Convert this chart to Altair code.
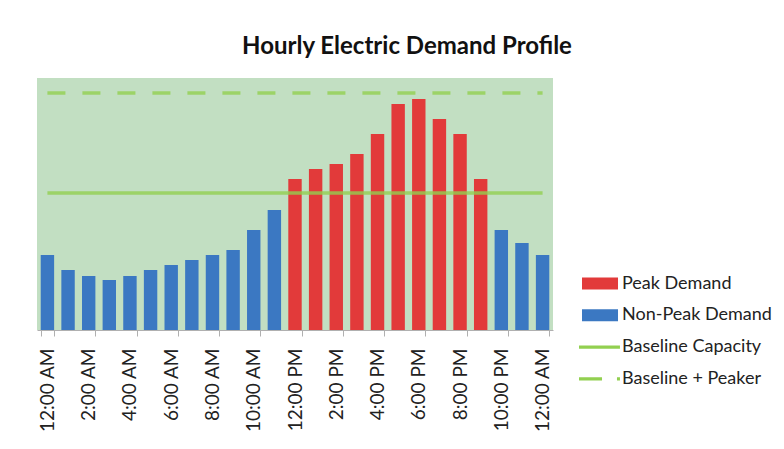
import altair as alt
import pandas as pd

hour_labels = ["12:00 AM", "1:00 AM", "2:00 AM", "3:00 AM", "4:00 AM", "5:00 AM",
               "6:00 AM", "7:00 AM", "8:00 AM", "9:00 AM", "10:00 AM", "11:00 AM",
               "12:00 PM", "1:00 PM", "2:00 PM", "3:00 PM", "4:00 PM", "5:00 PM",
               "6:00 PM", "7:00 PM", "8:00 PM", "9:00 PM", "10:00 PM", "11:00 PM",
               "12:00 AM"]
demand = [75, 60, 54, 50, 54, 60, 65, 70, 75, 80, 100, 120,
          151, 161, 166, 176, 196, 226, 231, 211, 196, 151,
          100, 87, 75]
demand_type = (["Non-Peak Demand"] * 12 + ["Peak Demand"] * 10 + ["Non-Peak Demand"] * 3)
baseline_capacity = 137
baseline_peaker = 237
y_max = 252

series_names = ["Peak Demand", "Non-Peak Demand", "Baseline Capacity", "Baseline + Peaker"]
series_colors = ["#e23a3a", "#3b78c2", "#92d050", "#92d050"]

hours = list(range(len(hour_labels)))
bars = pd.DataFrame({"hour": hours, "demand": demand, "type": demand_type})
lines = pd.DataFrame({
    "hour": hours + hours,
    "value": [baseline_capacity] * len(hours) + [baseline_peaker] * len(hours),
    "type": ["Baseline Capacity"] * len(hours) + ["Baseline + Peaker"] * len(hours),
})

label_expr = "[" + ",".join("'%s'" % s for s in hour_labels) + "][datum.value]"

x_enc = alt.X("hour:O",
              scale=alt.Scale(paddingInner=0.35, paddingOuter=0.18),
              axis=alt.Axis(title=None, values=hours[::2], labelExpr=label_expr,
                            labelAngle=-90, labelFontSize=19, labelColor="#222",
                            labelFont="Lato", labelPadding=12, tickBand="extent",
                            tickSize=6, tickColor="#b0b0b0", domainColor="#b0b0b0"))
y_scale = alt.Scale(domain=[0, y_max], nice=False, zero=True)

shape_sig = ("datum.value === 'Peak Demand' || datum.value === 'Non-Peak Demand' ? "
             "'M-1,-0.46H1.77V0.46H-1Z' : datum.value === 'Baseline Capacity' ? "
             "'M-1.23,-0.13H1.92V0.13H-1.23Z' : "
             "'M-1.23,-0.13H0.54V0.13H-1.23Z M1.69,-0.13H1.92V0.13H1.69Z'")

color_enc = alt.Color("type:N",
                      scale=alt.Scale(domain=series_names, range=series_colors),
                      legend=alt.Legend(title=None, orient="none", legendX=545, legendY=192.5,
                                        labelFontSize=18, labelFont="Lato", labelColor="#222",
                                        symbolSize=676, rowPadding=9.8, labelOffset=14,
                                        symbolStrokeWidth=0, symbolOpacity=1,
                                        symbolType={"expr": shape_sig}))

bar_layer = alt.Chart(bars).mark_bar().encode(
    x=x_enc,
    y=alt.Y("demand:Q", scale=y_scale, axis=None),
    color=color_enc,
)

solid = alt.Chart(lines).transform_filter(alt.datum.type == "Baseline Capacity").mark_line(
    strokeWidth=3.5, opacity=0.8).encode(
    x=x_enc, y=alt.Y("value:Q", scale=y_scale, axis=None), color=color_enc)

dashed = alt.Chart(lines).transform_filter(alt.datum.type == "Baseline + Peaker").mark_line(
    strokeWidth=3.5, strokeDash=[18, 17], opacity=0.8).encode(
    x=x_enc, y=alt.Y("value:Q", scale=y_scale, axis=None), color=color_enc)

chart = alt.layer(bar_layer, solid, dashed).properties(
    width=516, height=252,
    title=alt.TitleParams("Hourly Electric Demand Profile", font="Lato", fontSize=24,
                          fontWeight="bold", color="#111", dx=112, offset=19),
    autosize=alt.AutoSizeParams(type="none"),
    padding={"left": 29, "top": 70, "right": 223, "bottom": 111},
    background="white",
).configure_view(fill="#c2dfc2", stroke=None)

chart.save("out.html", embed_options={"renderer": "svg", "actions": False})
